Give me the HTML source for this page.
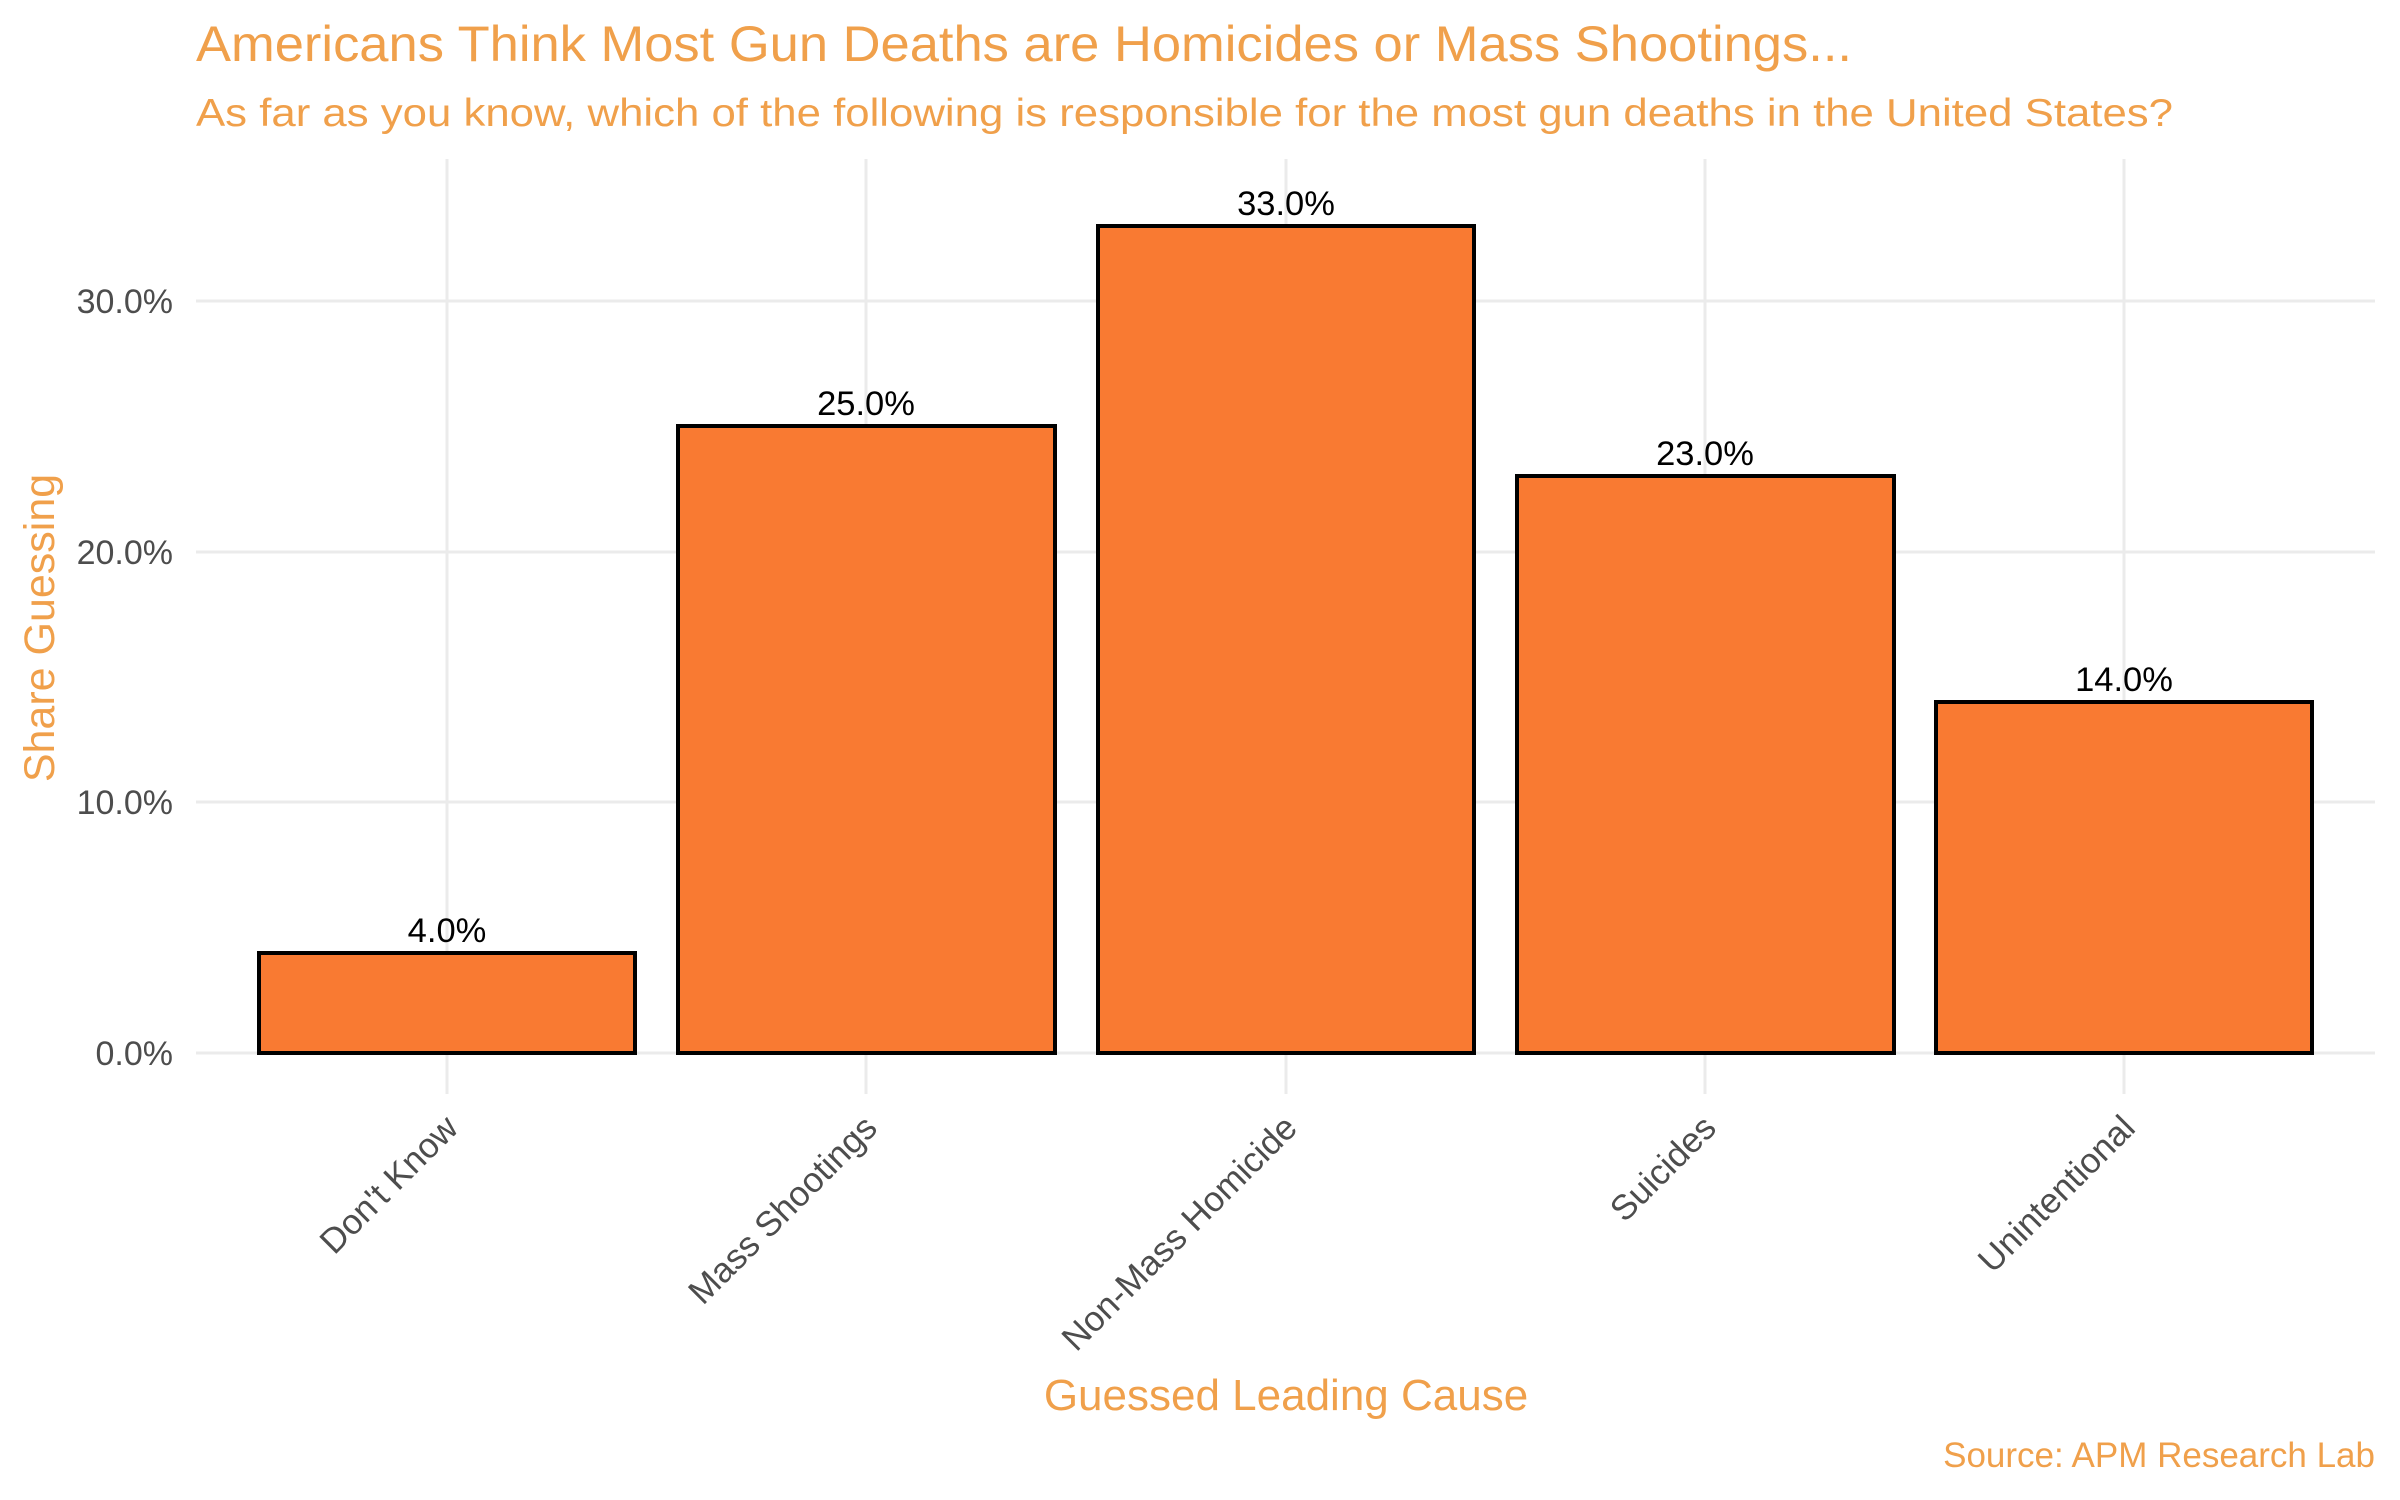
<!DOCTYPE html>
<html><head><meta charset="utf-8"><style>html,body{margin:0;padding:0;background:#fff}svg{display:block}</style></head>
<body>
<svg width="2400" height="1500" viewBox="0 0 2400 1500" xmlns="http://www.w3.org/2000/svg" font-family="'Liberation Sans', Arial, sans-serif">
<rect width="2400" height="1500" fill="#fff"/>
<text x="196" y="61" font-size="50" fill="#F0A04B" textLength="1656" lengthAdjust="spacingAndGlyphs">Americans Think Most Gun Deaths are Homicides or Mass Shootings...</text>
<text x="196" y="126" font-size="39" fill="#F0A04B" textLength="1977" lengthAdjust="spacingAndGlyphs">As far as you know, which of the following is responsible for the most gun deaths in the United States?</text>
<g stroke="#ebebeb" stroke-width="3">
<line x1="196" x2="2375" y1="1053" y2="1053"/>
<line x1="196" x2="2375" y1="802" y2="802"/>
<line x1="196" x2="2375" y1="552" y2="552"/>
<line x1="196" x2="2375" y1="301" y2="301"/>
<line x1="447" x2="447" y1="159" y2="1094"/>
<line x1="866" x2="866" y1="159" y2="1094"/>
<line x1="1286" x2="1286" y1="159" y2="1094"/>
<line x1="1705" x2="1705" y1="159" y2="1094"/>
<line x1="2124" x2="2124" y1="159" y2="1094"/>
</g>
<g fill="#F97A32" stroke="#000" stroke-width="4">
<rect x="259" y="953" width="376" height="100"/>
<rect x="678" y="426" width="377" height="627"/>
<rect x="1098" y="226" width="376" height="827"/>
<rect x="1517" y="476" width="377" height="577"/>
<rect x="1936" y="702" width="376" height="351"/>
</g>
<g font-size="34.5" fill="#000" text-anchor="middle">
<text x="447" y="942">4.0%</text>
<text x="866" y="415">25.0%</text>
<text x="1286" y="215">33.0%</text>
<text x="1705" y="465">23.0%</text>
<text x="2124" y="691">14.0%</text>
</g>
<g font-size="34" fill="#4d4d4d" text-anchor="end">
<text x="173" y="1065">0.0%</text>
<text x="173" y="814">10.0%</text>
<text x="173" y="564">20.0%</text>
<text x="173" y="313">30.0%</text>
</g>
<g font-size="35" fill="#4d4d4d" text-anchor="end">
<text transform="translate(460,1130) rotate(-45)">Don't Know</text>
<text transform="translate(879,1130) rotate(-45)">Mass Shootings</text>
<text transform="translate(1299,1130) rotate(-45)">Non-Mass Homicide</text>
<text transform="translate(1718,1130) rotate(-45)">Suicides</text>
<text transform="translate(2137,1130) rotate(-45)">Unintentional</text>
</g>
<text x="1286" y="1410" font-size="44" fill="#F0A04B" text-anchor="middle">Guessed Leading Cause</text>
<text transform="translate(54,628) rotate(-90)" font-size="43" fill="#F0A04B" text-anchor="middle">Share Guessing</text>
<text x="2375" y="1467" font-size="35" fill="#F0A04B" text-anchor="end">Source: APM Research Lab</text>
</svg>
</body></html>
